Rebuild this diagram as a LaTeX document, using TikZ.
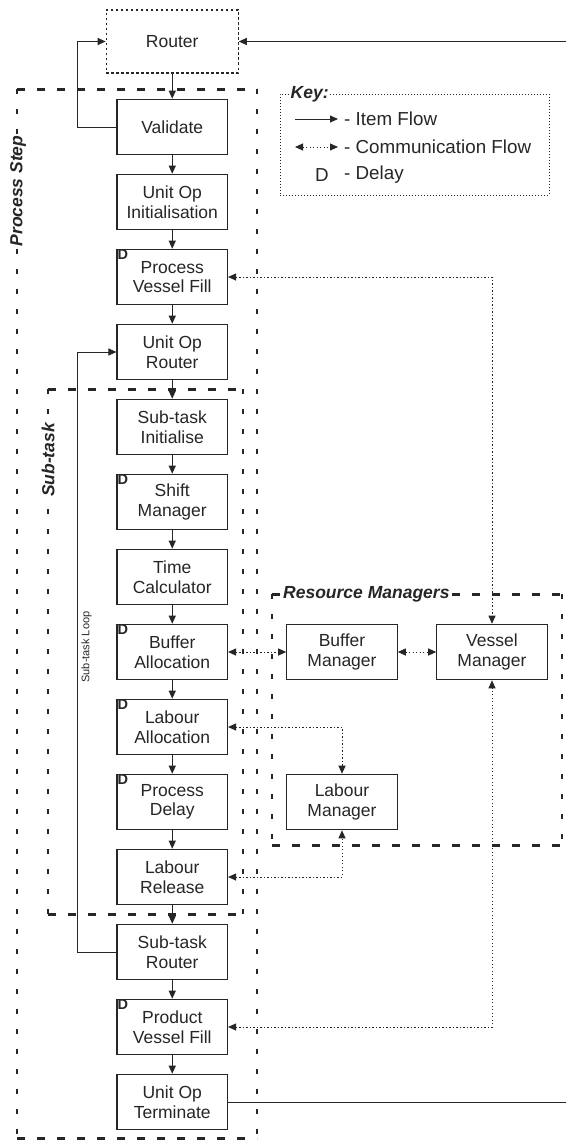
\documentclass[tikz,border=0pt]{standalone}
\usepackage{fontspec}
\setmainfont{Liberation Sans}
\usetikzlibrary{arrows.meta}
\newcommand\bxfont{\fontsize{17.5}{19.5}\selectfont}
\newcommand\grpfont{\bfseries\itshape\fontsize{17.5}{20}\selectfont}
\begin{document}
\begin{tikzpicture}[x=1pt,y=-1pt,
  box/.style={draw=black!85, line width=1.1pt, fill=white, minimum width=110.5pt,
    minimum height=55.5pt, align=center, inner sep=0pt, font=\bxfont, text=black!85},
  dlab/.style={anchor=north west, inner sep=1pt, text=black!85,
    font=\bfseries\fontsize{14.5}{14.5}\selectfont},
  tip/.tip={Triangle[length=8pt,width=7pt]},
  flow/.style={draw=black!85, line width=1pt, -tip},
  plain/.style={draw=black!85, line width=1pt},
  comm/.style={draw=black!85, line width=1pt, dash pattern=on 1.2pt off 2.3pt, tip-tip},
  grph/.style={draw=black!85, line width=3pt, dash pattern=on 8pt off 12pt},
  grpv/.style={draw=black!85, line width=2.8pt, dash pattern=on 5pt off 15pt},
  grplab/.style={font=\grpfont, fill=white, inner sep=2pt, text=black!85},
  keytxt/.style={anchor=west, inner sep=0pt, font=\fontsize{18.8}{20}\selectfont, text=black!85}
]
\useasboundingbox (0,0) rectangle (566,1140);

% ---- grouping frames (dashed) ----
% Process Step
\draw[grph] (17,89) -- (257,89);
\draw[grph] (17,1138) -- (257,1138);
\draw[grpv] (17,89) -- (17,1138);
\draw[grpv] (257,89) -- (257,1138);
% Sub-task
\draw[grph] (48,389) -- (243,389);
\draw[grph] (48,914) -- (243,914);
\draw[grpv] (48,389) -- (48,914);
\draw[grpv] (243,389) -- (243,914);
% Resource Managers
\draw[grph] (272,594) -- (562,594);
\draw[grph] (272,845) -- (562,845);
\draw[grpv] (272,594) -- (272,845);
\draw[grpv] (562,594) -- (562,845);

\node[grplab, rotate=90] (pslab) at (18,191) {Process Step};
\node[grplab, rotate=90] (stlab) at (48,460) {Sub-task};
\node[grplab, anchor=west] (rmlab) at (281,594) {Resource Managers};

% ---- key ----
\node[draw=black!85, line width=1pt, dash pattern=on 1pt off 2pt,
  minimum width=269pt, minimum height=101pt, inner sep=0pt] (key) at (414.5,144.5) {};
\node[grplab, anchor=west, inner sep=1.5pt] (keyt) at (289,94) {Key:};
\coordinate (k1a) at (295,119);
\coordinate (k1b) at (338,119);
\coordinate (k2a) at (295,147);
\coordinate (k2b) at (338,147);
\draw[flow] (k1a) -- (k1b);
\draw[comm] (k2a) -- (k2b);
\node[keytxt] (k1t) at (344,119) {- Item Flow};
\node[keytxt] (k2t) at (344,147) {- Communication Flow};
\node[keytxt] (k3d) at (315,175) {D};
\node[keytxt] (k3t) at (344,175) {- Delay};

% ---- main chain ----
\node[box, dash pattern=on 2.5pt off 2.5pt, minimum width=132pt, minimum height=63pt]
  (router) at (172.25,41.5) {Router};
\node[box] (val)  at (172.25,127) {Validate};
\node[box] (uoi)  at (172.25,202) {Unit Op\\Initialisation};
\node[box] (pvf)  at (172.25,277) {Process\\Vessel Fill};
\node[box] (uor)  at (172.25,352) {Unit Op\\Router};
\node[box] (sti)  at (172.25,427) {Sub-task\\Initialise};
\node[box] (sm)   at (172.25,502) {Shift\\Manager};
\node[box] (tc)   at (172.25,577) {Time\\Calculator};
\node[box] (ba)   at (172.25,652) {Buffer\\Allocation};
\node[box] (la)   at (172.25,727) {Labour\\Allocation};
\node[box] (pd)   at (172.25,802) {Process\\Delay};
\node[box] (lr)   at (172.25,877) {Labour\\Release};
\node[box] (str)  at (172.25,952) {Sub-task\\Router};
\node[box] (prvf) at (172.25,1027) {Product\\Vessel Fill};
\node[box] (uot)  at (172.25,1102) {Unit Op\\Terminate};

% delay markers
\node[dlab] (dpvf) at (pvf.north west) {D};
\node[dlab] (dsm)  at (sm.north west) {D};
\node[dlab] (dba)  at (ba.north west) {D};
\node[dlab] (dla)  at (la.north west) {D};
\node[dlab] (dpd)  at (pd.north west) {D};
\node[dlab] (dprvf) at (prvf.north west) {D};

% ---- resource managers ----
\node[box] (bm) at (342,652) {Buffer\\Manager};
\node[box] (vm) at (492,652) {Vessel\\Manager};
\node[box] (lm) at (342,802) {Labour\\Manager};

% ---- item flow ----
\foreach \a/\b in {router/val, val/uoi, uoi/pvf, pvf/uor, uor/sti, sti/sm, sm/tc,
  tc/ba, ba/la, la/pd, pd/lr, lr/str, str/prvf, prvf/uot}
  \draw[flow] (\a.south) -- (\b.north);

\coordinate (inR) at (566,41.5);
\draw[flow] (inR) -- (router.east);
\draw[flow] (val.west) -- ++(-39,0) |- (router.west);
\draw[flow] (str.west) -- ++(-39,0) |- (uor.west);
\node[rotate=90, inner sep=0pt, font=\fontsize{11}{13}\selectfont, text=black!85]
  (looplab) at (86.5,647) {Sub-task Loop};
\coordinate (outT) at (566,1102);
\draw[plain] (uot.east) -- (outT);

% ---- communication flow ----
\draw[comm] (pvf.east) -| (vm.north);
\draw[comm] (ba.east) -- (bm.west);
\draw[comm] (bm.east) -- (vm.west);
\draw[comm] (la.east) -| (lm.north);
\draw[comm] (lr.east) -| (lm.south);
\draw[comm] (prvf.east) -| (vm.south);
\end{tikzpicture}
\end{document}
